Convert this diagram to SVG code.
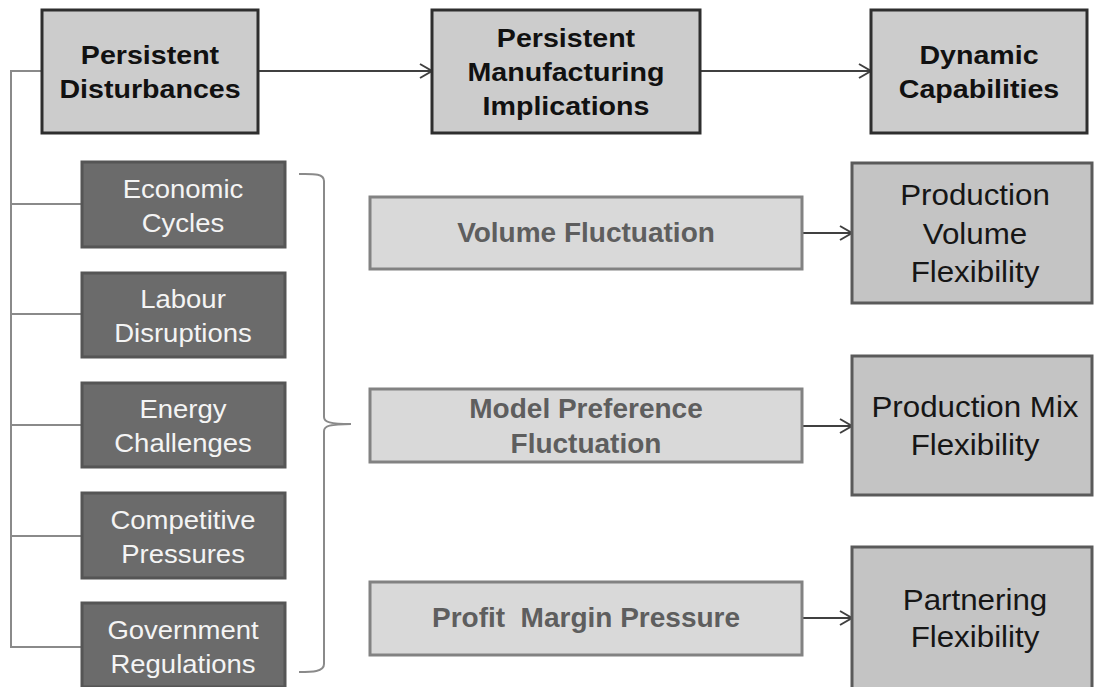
<svg xmlns="http://www.w3.org/2000/svg" width="1094" height="687" viewBox="0 0 1094 687">
  <style>
    .head rect { fill: #cccccc; stroke: #2e2e2e; stroke-width: 3; }
    .head text { font-family: "Liberation Sans", Arial, sans-serif; font-weight: bold; font-size: 26px; fill: #111111; text-anchor: middle; }
    .cause rect { fill: #6b6b6b; stroke: #555555; stroke-width: 3; }
    .cause text { font-family: "Liberation Sans", Arial, sans-serif; font-size: 25px; fill: #f4f4f4; text-anchor: middle; }
    .impl rect { fill: #d9d9d9; stroke: #828282; stroke-width: 3; }
    .impl text { font-family: "Liberation Sans", Arial, sans-serif; font-weight: bold; font-size: 28px; fill: #5e5e5e; text-anchor: middle; }
    .cap rect { fill: #c4c4c4; stroke: #5a5a5a; stroke-width: 3; }
    .cap text { font-family: "Liberation Sans", Arial, sans-serif; font-size: 29px; fill: #161616; text-anchor: middle; }
    .arrow { stroke: #404040; stroke-width: 2; fill: none; marker-end: url(#open); }
    .tree { stroke: #8a8a8a; stroke-width: 2; fill: none; }
  </style>
  <defs>
    <marker id="open" markerUnits="userSpaceOnUse" markerWidth="16" markerHeight="16" refX="13" refY="8" orient="auto">
      <path d="M1,1 L13,8 L1,15" fill="none" stroke="#404040" stroke-width="2"/>
    </marker>
  </defs>

  <!-- connectors -->
  <g id="connectors">
    <path class="arrow" d="M258,71 H432"/>
    <path class="arrow" d="M700,71 H871"/>
    <path class="arrow" d="M802,233 H852"/>
    <path class="arrow" d="M802,426 H852"/>
    <path class="arrow" d="M802,618 H852"/>
    <!-- tree linking the disturbance types -->
    <path class="tree" d="M42,71 H11 V647 H82"/>
    <path class="tree" d="M11,204 H82 M11,314 H82 M11,425 H82 M11,536 H82"/>
    <!-- curly brace -->
    <path class="tree" d="M299,174 C312,174 324,173 324,181 V417 C324,422 330,424 351,424 C330,424 324,426 324,431 V664 C324,672 312,672 299,672"/>
  </g>

  <!-- header row -->
  <g id="persistent-disturbances" class="head">
    <rect x="42" y="10" width="216" height="123"/>
    <text transform="translate(150,0) scale(1.1,1)"><tspan x="0" y="64">Persistent</tspan><tspan x="0" y="98">Disturbances</tspan></text>
  </g>
  <g id="manufacturing-implications" class="head">
    <rect x="432" y="10" width="268" height="123"/>
    <text transform="translate(566,0) scale(1.1,1)"><tspan x="0" y="47">Persistent</tspan><tspan x="0" y="81">Manufacturing</tspan><tspan x="0" y="115">Implications</tspan></text>
  </g>
  <g id="dynamic-capabilities" class="head">
    <rect x="871" y="10" width="216" height="123"/>
    <text transform="translate(979,0) scale(1.1,1)"><tspan x="0" y="64">Dynamic</tspan><tspan x="0" y="98">Capabilities</tspan></text>
  </g>

  <!-- disturbance types -->
  <g id="economic-cycles" class="cause">
    <rect x="82" y="162" width="203" height="85"/>
    <text transform="translate(183,0) scale(1.1,1)"><tspan x="0" y="198">Economic</tspan><tspan x="0" y="232">Cycles</tspan></text>
  </g>
  <g id="labour-disruptions" class="cause">
    <rect x="82" y="273" width="203" height="84"/>
    <text transform="translate(183,0) scale(1.1,1)"><tspan x="0" y="308">Labour</tspan><tspan x="0" y="342">Disruptions</tspan></text>
  </g>
  <g id="energy-challenges" class="cause">
    <rect x="82" y="383" width="203" height="84"/>
    <text transform="translate(183,0) scale(1.1,1)"><tspan x="0" y="418">Energy</tspan><tspan x="0" y="452">Challenges</tspan></text>
  </g>
  <g id="competitive-pressures" class="cause">
    <rect x="82" y="493" width="203" height="85"/>
    <text transform="translate(183,0) scale(1.1,1)"><tspan x="0" y="529">Competitive</tspan><tspan x="0" y="563">Pressures</tspan></text>
  </g>
  <g id="government-regulations" class="cause">
    <rect x="82" y="603" width="203" height="84"/>
    <text transform="translate(183,0) scale(1.1,1)"><tspan x="0" y="639">Government</tspan><tspan x="0" y="673">Regulations</tspan></text>
  </g>

  <!-- manufacturing implications -->
  <g id="volume-fluctuation" class="impl">
    <rect x="370" y="197" width="432" height="72"/>
    <text x="586" y="242">Volume Fluctuation</text>
  </g>
  <g id="model-preference-fluctuation" class="impl">
    <rect x="370" y="389" width="432" height="73"/>
    <text><tspan x="586" y="418">Model Preference</tspan><tspan x="586" y="453">Fluctuation</tspan></text>
  </g>
  <g id="profit-margin-pressure" class="impl">
    <rect x="370" y="582" width="432" height="73"/>
    <text x="586" y="627" xml:space="preserve">Profit  Margin Pressure</text>
  </g>

  <!-- capabilities -->
  <g id="production-volume-flexibility" class="cap">
    <rect x="852" y="163" width="240" height="140"/>
    <text transform="translate(975,0) scale(1.08,1)"><tspan x="0" y="205">Production</tspan><tspan x="0" y="244">Volume</tspan><tspan x="0" y="282">Flexibility</tspan></text>
  </g>
  <g id="production-mix-flexibility" class="cap">
    <rect x="852" y="356" width="240" height="139"/>
    <text transform="translate(975,0) scale(1.08,1)"><tspan x="0" y="417">Production Mix</tspan><tspan x="0" y="455">Flexibility</tspan></text>
  </g>
  <g id="partnering-flexibility" class="cap">
    <rect x="852" y="547" width="240" height="145"/>
    <text transform="translate(975,0) scale(1.08,1)"><tspan x="0" y="610">Partnering</tspan><tspan x="0" y="647">Flexibility</tspan></text>
  </g>
</svg>
